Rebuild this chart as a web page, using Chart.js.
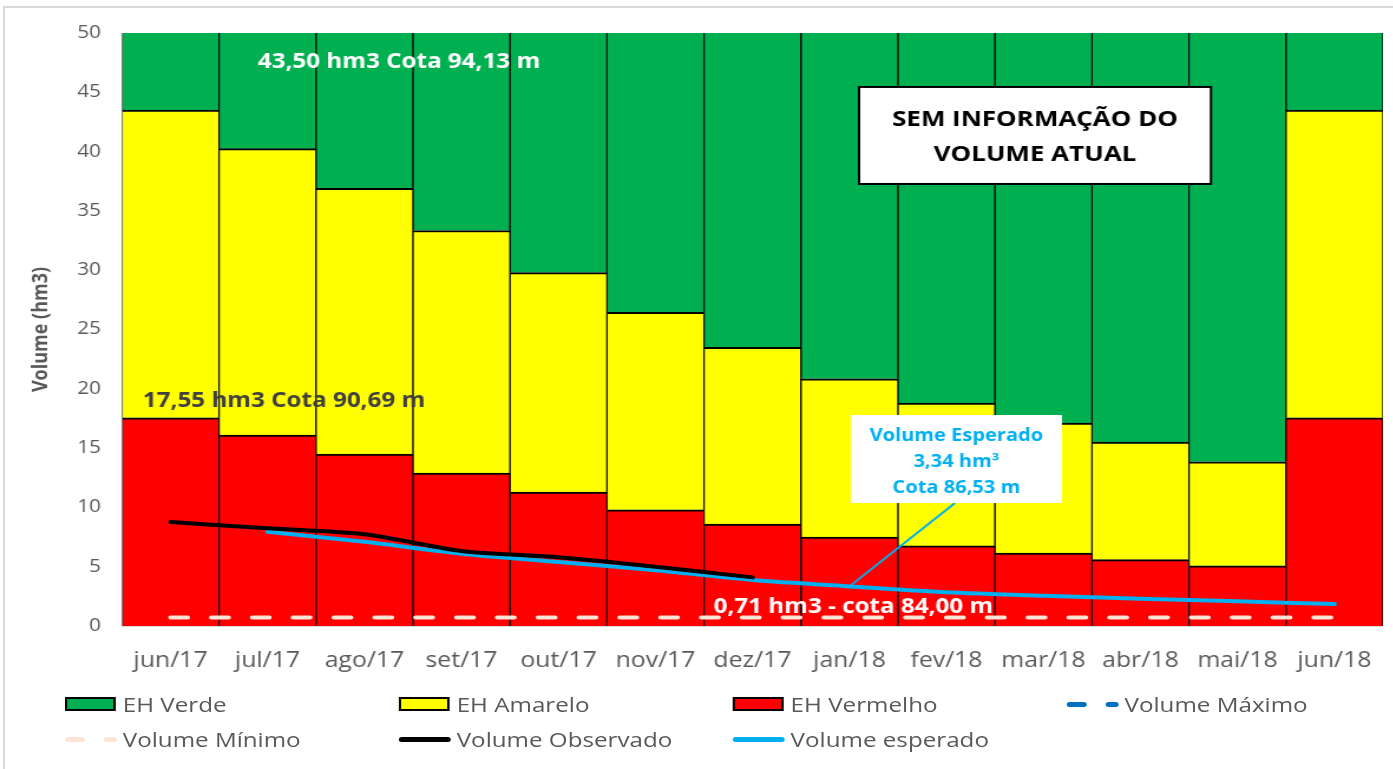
<!DOCTYPE html>
<html>
<head>
<meta charset="utf-8">
<script src="https://cdn.jsdelivr.net/npm/chart.js@4.4.1/dist/chart.umd.min.js"></script>
<style>
  html,body{margin:0;padding:0;background:#fff;overflow:hidden;width:1393px;height:769px;}
  #frame{position:absolute;left:3px;top:6px;width:1420px;height:800px;border:2px solid #D9D9D9;box-sizing:border-box;}
  #wrap{position:absolute;left:0;top:0;width:1181px;height:769px;transform:scaleX(1.18);transform-origin:0 0;}
  #c{position:absolute;left:0;top:0;width:1181px;height:769px;}
  .lg{position:absolute;font-family:'Open Sans',sans-serif;font-size:20.5px;color:#595959;white-space:nowrap;line-height:24px;}
  .sym{position:absolute;left:0;}
  .txt{position:absolute;left:49px;top:-12px;}
</style>
</head>
<body>
<div id="frame"></div>
<div id="wrap">
  <canvas id="c" width="1181" height="769"></canvas>
  <div id="legend"></div>
</div>
<script>
// ---- data ----
const categories = ['jun/17','jul/17','ago/17','set/17','out/17','nov/17','dez/17','jan/18','fev/18','mar/18','abr/18','mai/18','jun/18'];
const ehVermelho = [17.55, 16.1, 14.5, 12.9, 11.3, 9.8, 8.6, 7.5, 6.75, 6.15, 5.6, 5.08, 17.55];
const ehAmarelo  = [25.95, 24.15, 22.4, 20.45, 18.5, 16.65, 14.9, 13.35, 12.05, 10.95, 9.9, 8.77, 25.95];
const ehVerde    = [6.5, 9.75, 13.1, 16.65, 20.2, 23.55, 26.5, 29.15, 31.2, 32.9, 34.5, 36.15, 6.5];
const volumeMaximo = [];
const volumeMinimo = [0.71, 0.71, 0.71, 0.71, 0.71, 0.71, 0.71, 0.71, 0.71, 0.71, 0.71, 0.71, 0.71];
const volumeObservado = [8.77, 8.24, 7.73, 6.33, 5.79, 5.0, 4.1];
const volumeEsperado = [null, 7.95, 7.1, 6.1, 5.4, 4.7, 3.88, 3.34, 2.85, 2.55, 2.3, 2.08, 1.85];
const yTicks = [0, 5, 10, 15, 20, 25, 30, 35, 40, 45, 50];
const labelMax = '43,50 hm3 Cota 94,13 m';
const labelVermelho = '17,55 hm3 Cota 90,69 m';
const labelMin = '0,71 hm3 - cota 84,00 m';
const labelSemInfo = ['SEM INFORMAÇÃO DO', 'VOLUME ATUAL'];
const labelEsperado = ['Volume Esperado', '3,34 hm³', 'Cota 86,53 m'];
const esperadoIndex = 7, esperadoValue = 3.34;

const FONT = "'Open Sans', sans-serif";

const annot = {
  id: 'annot',
  afterDatasetsDraw(chart) {
    const {ctx, chartArea: a, scales: {x, y}} = chart;
    const fx = f => a.left + f * (a.right - a.left);
    const py = v => y.getPixelForValue(v);
    ctx.save();
    ctx.textAlign = 'center';
    ctx.textBaseline = 'middle';
    // value labels
    ctx.font = "bold 20.5px " + FONT;
    ctx.fillStyle = '#FFFFFF';
    ctx.fillText(labelMax, fx(0.2197), py(47.55));
    ctx.fillStyle = '#404040';
    ctx.fillText(labelVermelho, fx(0.1285), py(19.0));
    ctx.fillStyle = '#FFFFFF';
    ctx.fillText(labelMin, fx(0.580), py(1.6));
    // SEM INFORMAÇÃO box
    const bx1 = fx(0.5845), bx2 = fx(0.8636), by1 = py(45.45), by2 = py(37.27);
    ctx.fillStyle = '#FFFFFF';
    ctx.fillRect(bx1, by1, bx2 - bx1, by2 - by1);
    ctx.strokeStyle = '#000000';
    ctx.lineWidth = 2;
    ctx.strokeRect(bx1, by1, bx2 - bx1, by2 - by1);
    ctx.fillStyle = '#000000';
    ctx.font = "bold 22px " + FONT;
    ctx.fillText(labelSemInfo[0], (bx1 + bx2) / 2, py(42.66));
    ctx.fillText(labelSemInfo[1], (bx1 + bx2) / 2, py(39.71));
    // leader line for expected volume
    ctx.strokeStyle = '#00B0F0';
    ctx.lineWidth = 2;
    ctx.beginPath();
    ctx.moveTo(x.getPixelForValue(esperadoIndex), py(esperadoValue));
    ctx.lineTo(fx(0.6606), py(10.37));
    ctx.stroke();
    // expected volume box
    const ex1 = fx(0.578), ex2 = fx(0.7454), ey1 = py(17.79), ey2 = py(10.37);
    ctx.fillStyle = '#FFFFFF';
    ctx.fillRect(ex1, ey1, ex2 - ex1, ey2 - ey1);
    ctx.fillStyle = '#00B0F0';
    ctx.font = "bold 17px " + FONT;
    const ecx = (ex1 + ex2) / 2;
    ctx.fillText(labelEsperado[0], ecx, py(16.02));
    ctx.fillText(labelEsperado[1], ecx, py(13.83));
    ctx.fillText(labelEsperado[2], ecx, py(11.64));
    ctx.restore();
  }
};

const barBase = {type: 'bar', stack: 'eh', order: 2, borderColor: '#000000', borderSkipped: false,
                 barPercentage: 1.0, categoryPercentage: 1.0};

const chart = new Chart(document.getElementById('c'), {
  data: {
    labels: categories,
    datasets: [
      Object.assign({}, barBase, {label: 'EH Vermelho', data: ehVermelho, backgroundColor: '#FF0000',
        borderWidth: {top: 2, left: 1, right: 1, bottom: 0}}),
      Object.assign({}, barBase, {label: 'EH Amarelo', data: ehAmarelo, backgroundColor: '#FFFF00',
        borderWidth: {top: 2, left: 1, right: 1, bottom: 0}}),
      Object.assign({}, barBase, {label: 'EH Verde', data: ehVerde, backgroundColor: '#00B050',
        borderWidth: {top: 0, left: 1, right: 1, bottom: 0}}),
      {type: 'line', label: 'Volume Máximo', data: volumeMaximo, stack: 'max', order: 1,
        borderColor: '#0070C0', borderWidth: 4, borderDash: [14, 20], pointRadius: 0},
      {type: 'line', label: 'Volume Mínimo', data: volumeMinimo, stack: 'min', order: 1,
        borderColor: '#FBE5D6', borderWidth: 4, borderDash: [14.6, 20], borderCapStyle: 'round', pointRadius: 0},
      {type: 'line', label: 'Volume Observado', data: volumeObservado, stack: 'obs', order: 0,
        borderColor: '#000000', borderWidth: 4, borderCapStyle: 'round', tension: 0.25, pointRadius: 0},
      {type: 'line', label: 'Volume esperado', data: volumeEsperado, stack: 'esp', order: 0,
        borderColor: '#00B0F0', borderWidth: 4, borderCapStyle: 'round', tension: 0.25, pointRadius: 0}
    ]
  },
  options: {
    responsive: false,
    animation: false,
    devicePixelRatio: 1,
    layout: {padding: {left: 10, right: 9, top: 33, bottom: 83}},
    plugins: {legend: {display: false}, tooltip: {enabled: false}, title: {display: false}},
    scales: {
      x: {
        stacked: true,
        grid: {display: false, drawTicks: false},
        border: {display: true, color: '#D9D9D9', width: 1},
        ticks: {font: {family: FONT, size: 21}, color: '#595959', padding: 22, autoSkip: false, maxRotation: 0},
        afterFit: s => { s.height = 60; s.paddingLeft = 0; s.paddingRight = 0; }
      },
      y: {
        stacked: true,
        min: 0, max: 50,
        afterBuildTicks: s => { s.ticks = yTicks.map(v => ({value: v})); },
        grid: {display: false, drawTicks: false},
        border: {display: false},
        ticks: {font: {family: FONT, size: 17.5}, color: '#595959', padding: 18},
        title: {display: true, text: 'Volume (hm3)', color: '#595959',
                font: {family: FONT, size: 18, weight: 'bold'}, padding: {top: 14, bottom: 0}},
        afterFit: s => { s.width = 93.4; }
      }
    }
  },
  plugins: [annot]
});

// ---- HTML legend (4-column grid like the reference) ----
const legendItems = [
  {label: 'EH Verde', kind: 'box', color: '#00B050'},
  {label: 'EH Amarelo', kind: 'box', color: '#FFFF00'},
  {label: 'EH Vermelho', kind: 'box', color: '#FF0000'},
  {label: 'Volume Máximo', kind: 'dash', color: '#0070C0'},
  {label: 'Volume Mínimo', kind: 'dash', color: '#FBE5D6'},
  {label: 'Volume Observado', kind: 'line', color: '#000000'},
  {label: 'Volume esperado', kind: 'line', color: '#00B0F0'}
];
const colX = [55, 338, 621, 904];
const rowY = [704, 739];
const lg = document.getElementById('legend');
legendItems.forEach((it, i) => {
  const d = document.createElement('div');
  d.className = 'lg';
  d.style.left = colX[i % 4] + 'px';
  d.style.top = rowY[Math.floor(i / 4)] + 'px';
  let sym = '';
  if (it.kind === 'box') {
    sym = `<div class="sym" style="top:-7px;width:43px;height:14px;box-sizing:border-box;border:2px solid #000;background:${it.color}"></div>`;
  } else if (it.kind === 'line') {
    sym = `<div class="sym" style="top:-2.5px;width:44px;height:5px;border-radius:3px;background:${it.color}"></div>`;
  } else {
    sym = `<div class="sym" style="top:-2.5px;width:17px;height:5px;border-radius:3px;background:${it.color}"></div>` +
          `<div class="sym" style="left:33px;top:-2.5px;width:11px;height:5px;border-radius:3px;background:${it.color}"></div>`;
  }
  d.innerHTML = sym + `<span class="txt">${it.label}</span>`;
  lg.appendChild(d);
});
</script>
</body>
</html>
